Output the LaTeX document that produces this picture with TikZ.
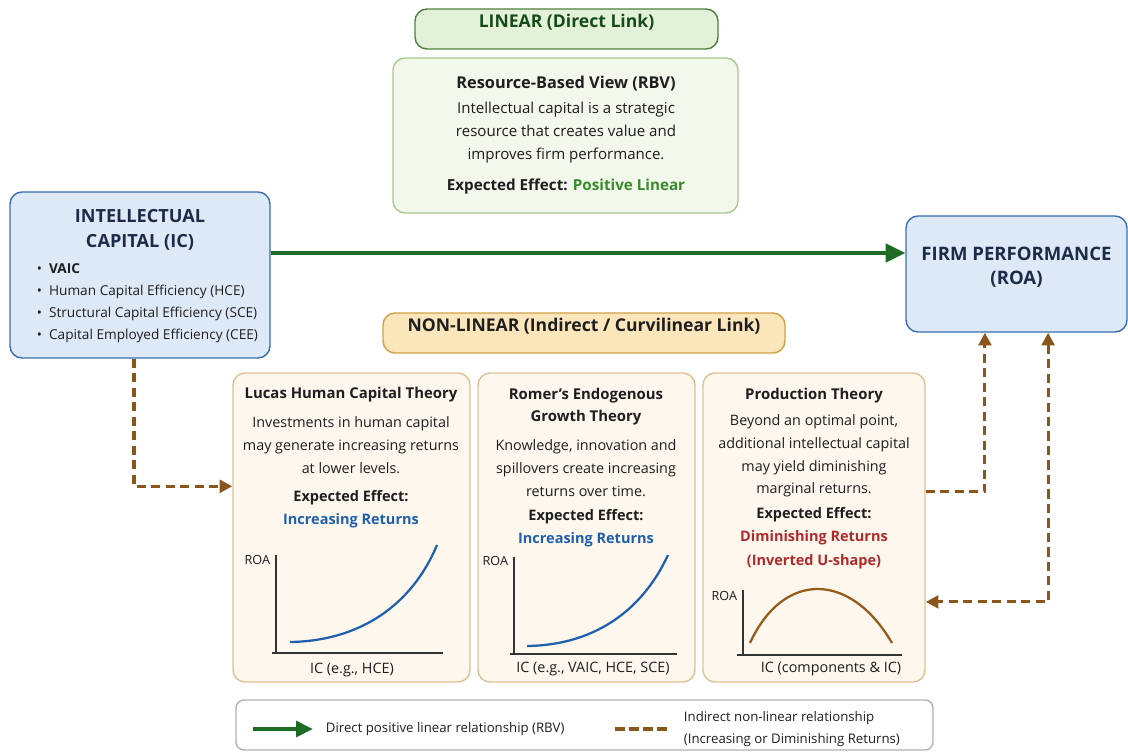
\documentclass[tikz,border=0pt]{standalone}
\usepackage{fontspec}
\setmainfont{Open Sans}
\usetikzlibrary{fit,arrows.meta}

\definecolor{icfill}{HTML}{DDE9F7}
\definecolor{icline}{HTML}{3A6DB0}
\definecolor{navy}{HTML}{1B2B48}
\definecolor{linfill}{HTML}{E4F1D9}
\definecolor{linline}{HTML}{4F7F3F}
\definecolor{rbvfill}{HTML}{F2F8EC}
\definecolor{rbvline}{HTML}{A9C98F}
\definecolor{nlfill}{HTML}{FBE6BC}
\definecolor{nlline}{HTML}{D0A048}
\definecolor{thfill}{HTML}{FDF7EE}
\definecolor{thline}{HTML}{DEC092}
\definecolor{arrgreen}{HTML}{1E6B25}
\definecolor{arrbrown}{HTML}{8A561C}
\definecolor{retblue}{HTML}{1F5FAE}
\definecolor{retred}{HTML}{B02A2A}
\definecolor{posgreen}{HTML}{3A8A2C}
\definecolor{textdark}{HTML}{1E1E1E}

\tikzset{
  box/.style={rounded corners=0.3cm,line width=1pt,inner sep=0pt,align=center},
  icbox/.style={box,draw=icline,fill=icfill,text=navy,font=\fontsize{13.2}{17.5}\selectfont\bfseries},
  linhead/.style={box,draw=linline,fill=linfill,text=arrgreen!70!black,font=\fontsize{12.5}{14}\selectfont\bfseries},
  rbvbox/.style={box,draw=rbvline,fill=rbvfill},
  nlhead/.style={box,draw=nlline,fill=nlfill,text=textdark,font=\fontsize{12.5}{14}\selectfont\bfseries},
  thbox/.style={box,draw=thline,fill=thfill},
  legbox/.style={box,rounded corners=0.2cm,draw=black!30,fill=white},
  boxtitle/.style={align=center,font=\fontsize{10.6}{15.6}\selectfont\bfseries},
  boxbody/.style={align=center,font=\fontsize{10.2}{16.2}\selectfont},
  effect/.style={align=center,font=\fontsize{10.3}{16.6}\selectfont\bfseries},
  axislabel/.style={font=\fontsize{9}{10}\selectfont},
  legtext/.style={anchor=west,align=left,font=\fontsize{9.4}{15.6}\selectfont},
  linarrow/.style={draw=arrgreen,line width=2.8pt,-{Stealth[length=14pt,width=13pt,inset=0pt]}},
  nlarrow/.style={draw=arrbrown,line width=2.2pt,dash pattern=on 6.5pt off 3.8pt,
    -{Stealth[length=9pt,width=9pt,inset=0pt]}},
  axis/.style={draw=black!80,line width=0.8pt},
  curve/.style={line width=1.6pt}
}
\tikzstyle{every node}=[color=textdark,font=\fontsize{10.2}{16}\selectfont]

\begin{document}
\begin{tikzpicture}[x=0.025cm,y=-0.025cm]
    \useasboundingbox (0,0) rectangle (1128,754);
    % direct link
    \node[linhead,fit={(415,9) (718,49)}] (linear) {LINEAR (Direct Link)};
    \node[rbvbox,fit={(393,58) (738,213)}] (rbv) {};
    \node[boxtitle,font=\fontsize{11.6}{15}\selectfont\bfseries] (rbvtitle) at (566,84) {Resource-Based View (RBV)};
    \node[boxbody,font=\fontsize{10.7}{16.4}\selectfont] (rbvtext) at (566,133) {Intellectual capital is a strategic\\resource that creates value and\\improves firm performance.};
    \node[effect,font=\fontsize{10.8}{15}\selectfont\bfseries] (rbveffect) at (566,187) {Expected Effect: \textcolor{posgreen}{Positive Linear}};

    % the two ends
    \node[icbox,fit={(10,192) (270,358)}] (ic) {};
    \node[icbox,font=\fontsize{12.9}{17.8}\selectfont\bfseries,draw=none,fill=none] (ictitle) at (140,229.5) {INTELLECTUAL\\CAPITAL (IC)};
    \node[anchor=west,align=left,font=\fontsize{9.7}{15.6}\selectfont] (icitems) at (32,303)
    {\textbullet\hspace{5pt}\textbf{VAIC}\\\textbullet\hspace{5pt}Human Capital Efficiency (HCE)\\
     \textbullet\hspace{5pt}Structural Capital Efficiency (SCE)\\\textbullet\hspace{5pt}Capital Employed Efficiency (CEE)};
    \node[icbox,fit={(906,216) (1127,332)}] (fp) {FIRM PERFORMANCE\\(ROA)};

    % non-linear link
    \node[nlhead,fit={(383,313) (785,353)}] (nonlinear) {NON-LINEAR (Indirect / Curvilinear Link)};
    \node[thbox,fit={(233,373) (470,682)}] (lucas) {};
    \node[thbox,fit={(478,373) (695,682)}] (romer) {};
    \node[thbox,fit={(703,373) (925,682)}] (prod) {};

    \node[boxtitle] (lucastitle) at (351,395) {Lucas Human Capital Theory};
    \node[boxbody] (lucastext) at (351,445) {Investments in human capital\\may generate increasing returns\\at lower levels.};
    \node[effect] (lucaseffect) at (351,509) {Expected Effect:\\\textcolor{retblue}{Increasing Returns}};
    \draw[axis] (276,555) -- (276,653) (272,653) -- (443,653);
    \draw[curve,retblue] (290,642) .. controls (360,641) and (412,605) .. (437,545);
    \node[axislabel,anchor=east] (lucasroa) at (275,560) {ROA};
    \node[boxbody] (lucasic) at (352,670) {IC (e.g., HCE)};

    \node[boxtitle] (romertitle) at (586,407) {Romer’s Endogenous\\Growth Theory};
    \node[boxbody] (romertext) at (586,468) {Knowledge, innovation and\\spillovers create increasing\\returns over time.};
    \node[effect] (romereffect) at (586,528.5) {Expected Effect:\\\textcolor{retblue}{Increasing Returns}};
    \draw[axis] (514,557) -- (514,654) (510,654) -- (677,654);
    \draw[curve,retblue] (527,646) .. controls (600,645) and (645,605) .. (668,555);
    \node[axislabel,anchor=east] (romerroa) at (513,561) {ROA};
    \node[boxbody] (romeric) at (593,669) {IC (e.g., VAIC, HCE, SCE)};

    \node[boxtitle] (prodtitle) at (814,396) {Production Theory};
    \node[boxbody] (prodtext) at (814,456) {Beyond an optimal point,\\additional intellectual capital\\may yield diminishing\\marginal returns.};
    \node[effect] (prodeffect) at (814,538) {Expected Effect:\\\textcolor{retred}{Diminishing Returns}\\\textcolor{retred}{(Inverted U-shape)}};
    \draw[axis] (743,590) -- (743,655) (737,655) -- (902,655);
    \draw[curve,arrbrown!90!orange] (750,643) .. controls (783,571) and (850,571) .. (892,643);
    \node[axislabel,anchor=east] (prodroa) at (742,596) {ROA};
    \node[boxbody] (prodic) at (831,669) {IC (components \& IC)};

    % connectors
    \draw[linarrow] ([yshift=0.55cm]ic.east) -- ([yshift=0.55cm]ic.east -| fp.west);
    \draw[nlarrow] ([xshift=-0.15cm]ic.south) |- ([yshift=1.03cm]lucas.west);
    \draw[nlarrow] ([yshift=0.89cm]prod.east) -| ([xshift=-0.79cm]fp.south);
    \draw[nlarrow,{Stealth[length=9pt,width=9pt,inset=0pt]}-{Stealth[length=9pt,width=9pt,inset=0pt]}]
      ([xshift=0.79cm]fp.south) |- ([yshift=-1.86cm]prod.east);

    % legend
    \node[legbox,fit={(236,700) (933,750)}] (legend) {};
    \coordinate (lgstart) at (253,729);
    \coordinate (lgend) at (313,729);
    \coordinate (ldstart) at (615,729);
    \coordinate (ldend) at (668,729);
    \draw[linarrow,-{Stealth[length=12pt,width=11pt,inset=0pt]}] (lgstart) -- (lgend);
    \draw[nlarrow,-,dash pattern=on 7pt off 3pt] (ldstart) -- (ldend);
    \node[legtext] (legdirect) at (321,729) {Direct positive linear relationship (RBV)};
    \node[legtext] (legindirect) at (679,729) {Indirect non-linear relationship\\(Increasing or Diminishing Returns)};
\end{tikzpicture}
\end{document}
